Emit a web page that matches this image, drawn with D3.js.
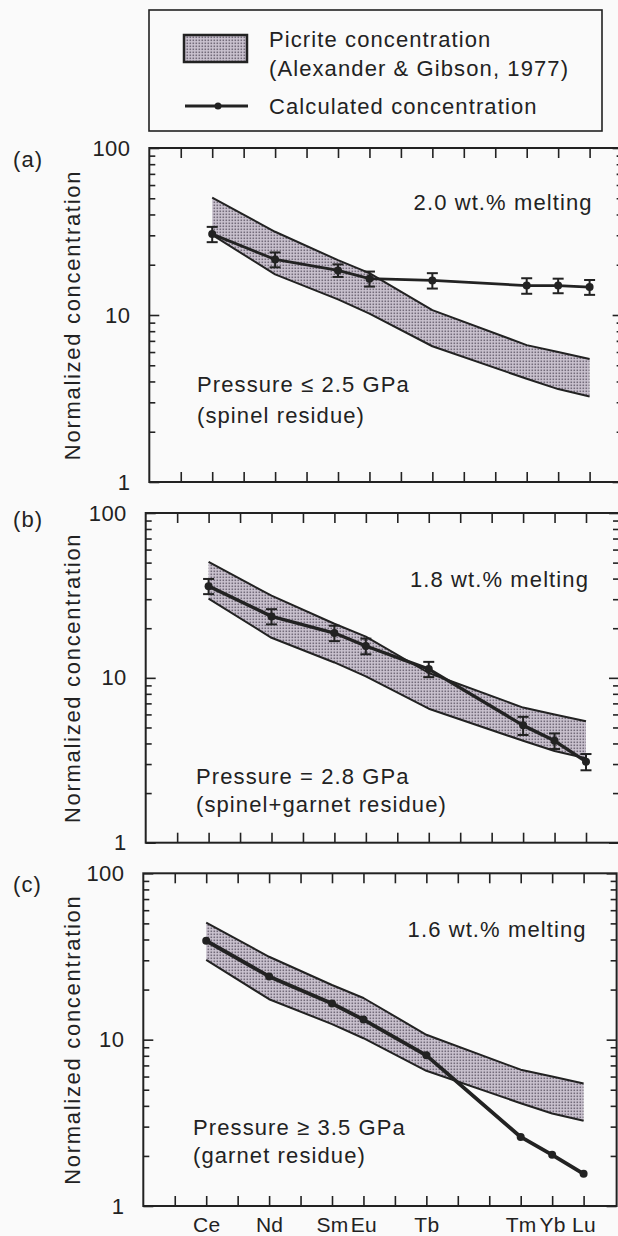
<!DOCTYPE html>
<html><head><meta charset="utf-8">
<script src="https://cdn.jsdelivr.net/npm/d3@7"></script>
<style>
html,body{margin:0;padding:0;background:#fafafa;}
svg{display:block;}
text{font-family:"Liberation Sans",Arial,Helvetica,sans-serif;fill:#222;}
</style></head><body>
<svg id="chart" width="618" height="1236"></svg>
<script>
// One x-axis tick per REE slot; only some slots carry a label
const slots = d3.range(0, 14);
const elements = ["Ce", "Nd", "Sm", "Eu", "Tb", "Tm", "Yb", "Lu"];
const elementSlot = [1, 3, 5, 6, 8, 11, 12, 13];

// Picrite envelope (Alexander & Gibson, 1977)
const picriteUpper = [50.5, 31.5, 21.3, 17.8, 10.7, 6.6, 6.0, 5.45];
const picriteLower = [30.2, 17.5, 12.4, 10.2, 6.5, 4.15, 3.6, 3.25];

// Calculated melt concentrations with their ± errors
const calcA = [30.5, 21.5, 18.5, 16.5, 16.1, 15.0, 15.0, 14.7];
const errA  = [3.2, 2.2, 1.6, 1.7, 1.7, 1.6, 1.5, 1.5];
const calcB = [36.0, 23.6, 18.7, 15.6, 11.3, 5.15, 4.15, 3.1];
const errB  = [3.8, 2.5, 2.0, 1.7, 1.2, 0.65, 0.45, 0.35];
const calcC = [39.3, 24.0, 16.5, 13.2, 8.05, 2.6, 2.03, 1.56];

const yMajor = [1, 10, 100];
const yMinor = [2, 3, 4, 5, 6, 7, 8, 9, 20, 30, 40, 50, 60, 70, 80, 90];

const panelTags = ["(a)", "(b)", "(c)"];
const meltText = ["2.0 wt.% melting", "1.8 wt.% melting", "1.6 wt.% melting"];
const pressureText = ["Pressure \u2264 2.5 GPa", "Pressure = 2.8 GPa", "Pressure \u2265 3.5 GPa"];
const residueText = ["(spinel residue)", "(spinel+garnet residue)", "(garnet residue)"];
const yTitle = "Normalized concentration";
const legendText = ["Picrite concentration", "(Alexander & Gibson, 1977)", "Calculated concentration"];

const INK = "#222";
const FS = 22, LS = "1.1px";
const step = 31.45;

const svg = d3.select("#chart");

// fine half-tone screen for the picrite envelope
const defs = svg.append("defs");
const pat = defs.append("pattern").attr("id", "screen")
  .attr("width", 3).attr("height", 3).attr("patternUnits", "userSpaceOnUse");
pat.append("rect").attr("width", 3).attr("height", 3).attr("fill", "#cbc3d0");
pat.append("rect").attr("x", 0.5).attr("y", 0.5).attr("width", 1.6).attr("height", 1.6).attr("fill", "#736b7a");

// legend
const lg = svg.append("g");
lg.append("rect").attr("x", 149).attr("y", 10).attr("width", 453).attr("height", 121)
  .attr("fill", "none").attr("stroke", INK).attr("stroke-width", 1.6);
lg.append("rect").attr("x", 184).attr("y", 35).attr("width", 63).attr("height", 27)
  .attr("fill", "url(#screen)").attr("stroke", INK).attr("stroke-width", 2.5);
lg.append("text").attr("x", 269).attr("y", 47).text(legendText[0]);
lg.append("text").attr("x", 269).attr("y", 76).text(legendText[1]);
lg.append("line").attr("x1", 185).attr("x2", 248).attr("y1", 106).attr("y2", 106)
  .attr("stroke", INK).attr("stroke-width", 3);
lg.append("circle").attr("cx", 218).attr("cy", 106).attr("r", 3.5).attr("fill", INK);
lg.append("text").attr("x", 269).attr("y", 114).text(legendText[2]);
lg.selectAll("text").attr("font-size", FS).attr("letter-spacing", LS);

const panels = [
  {left: 149.3, top: 148, bottom: 482, calc: calcA, err: errA, tagY: 167, meltY: 210, pY: 392, rY: 423, tx: 197, lw: 2.8},
  {left: 145.7, top: 513, bottom: 842.7, calc: calcB, err: errB, tagY: 527, meltY: 587, pY: 784, rY: 812, tx: 196, lw: 3.4},
  {left: 143.3, top: 873.3, bottom: 1206, calc: calcC, err: null, tagY: 892, meltY: 937, pY: 1135, rY: 1163, tx: 193, lw: 3.8}
];

panels.forEach((p, i) => {
  const right = p.left + 15.05 * step;
  const x = d3.scaleLinear().domain([-1, 14.05]).range([p.left, right]);
  const y = d3.scaleLog().domain([1, 100]).range([p.bottom, p.top]);
  const g = svg.append("g");

  // picrite envelope
  const band = elementSlot.map((s, k) => ({s, hi: picriteUpper[k], lo: picriteLower[k]}));
  g.append("path").datum(band)
    .attr("d", d3.area().x(d => x(d.s)).y0(d => y(d.lo)).y1(d => y(d.hi)))
    .attr("fill", "url(#screen)");
  [d => d.hi, d => d.lo].forEach(acc => {
    g.append("path").datum(band)
      .attr("d", d3.line().x(d => x(d.s)).y(d => y(acc(d))))
      .attr("fill", "none").attr("stroke", INK).attr("stroke-width", 2).attr("stroke-linejoin", "round");
  });

  // calculated concentration
  const pts = elementSlot.map((s, k) => ({s, v: p.calc[k], e: p.err ? p.err[k] : 0}));
  g.append("path").datum(pts)
    .attr("d", d3.line().x(d => x(d.s)).y(d => y(d.v)))
    .attr("fill", "none").attr("stroke", INK).attr("stroke-width", p.lw).attr("stroke-linejoin", "round");
  if (p.err) {
    const eb = g.append("g").attr("stroke", INK).attr("stroke-width", 2);
    pts.forEach(d => {
      const y0 = y(d.v - d.e), y1 = y(d.v + d.e), cx = x(d.s);
      eb.append("line").attr("x1", cx).attr("x2", cx).attr("y1", y0).attr("y2", y1);
      eb.append("line").attr("x1", cx - 5.5).attr("x2", cx + 5.5).attr("y1", y0).attr("y2", y0);
      eb.append("line").attr("x1", cx - 5.5).attr("x2", cx + 5.5).attr("y1", y1).attr("y2", y1);
    });
  }
  g.selectAll("circle.pt").data(pts).join("circle").attr("class", "pt")
    .attr("cx", d => x(d.s)).attr("cy", d => y(d.v)).attr("r", 4).attr("fill", INK);

  // frame
  g.append("rect").attr("x", p.left).attr("y", p.top)
    .attr("width", right - p.left).attr("height", p.bottom - p.top)
    .attr("fill", "none").attr("stroke", INK).attr("stroke-width", 2);

  // axes: ticks point into the plot
  const styleAxis = sel => {
    sel.select(".domain").remove();
    sel.selectAll(".tick line").attr("stroke", INK).attr("stroke-width", 1.6);
    sel.selectAll("text").attr("fill", "#222").attr("font-family", null);
  };
  g.append("g").attr("transform", `translate(${p.left},0)`)
    .call(d3.axisLeft(y).tickValues(yMajor).tickFormat(d3.format("d")).tickSize(-10).tickPadding(19))
    .call(styleAxis).selectAll("text").attr("font-size", FS).attr("letter-spacing", "0.4px");
  g.append("g").attr("transform", `translate(${p.left},0)`)
    .call(d3.axisLeft(y).tickValues(yMinor).tickFormat("").tickSize(-6)).call(styleAxis);
  g.append("g").attr("transform", `translate(${right},0)`)
    .call(d3.axisRight(y).tickValues(yMajor).tickFormat("").tickSize(-10)).call(styleAxis);
  g.append("g").attr("transform", `translate(${right},0)`)
    .call(d3.axisRight(y).tickValues(yMinor).tickFormat("").tickSize(-6)).call(styleAxis);
  g.append("g").attr("transform", `translate(0,${p.top})`)
    .call(d3.axisTop(x).tickValues(slots).tickFormat("").tickSize(-10)).call(styleAxis);
  const labelOf = s => { const k = elementSlot.indexOf(s); return (i === 2 && k >= 0) ? elements[k] : ""; };
  g.append("g").attr("transform", `translate(0,${p.bottom})`)
    .call(d3.axisBottom(x).tickValues(slots).tickFormat(labelOf).tickSize(-10).tickPadding(11))
    .call(styleAxis).selectAll("text").attr("font-size", 21).attr("letter-spacing", "0.3px");

  // texts
  const txt = (sel) => sel.attr("font-size", FS).attr("letter-spacing", LS);
  g.append("text").attr("x", 13).attr("y", p.tagY).call(txt).text(panelTags[i]);
  g.append("text").attr("x", x(13) + 3).attr("y", p.meltY).attr("text-anchor", "end").call(txt).text(meltText[i]);
  g.append("text").attr("x", p.tx).attr("y", p.pY).call(txt).text(pressureText[i]);
  g.append("text").attr("x", p.tx).attr("y", p.rY).call(txt).text(residueText[i]);
  g.append("text").attr("transform", `translate(80,${(p.top + p.bottom) / 2}) rotate(-90)`)
    .attr("text-anchor", "middle").attr("font-size", FS).attr("letter-spacing", "1.7px").text(yTitle);
});
</script>
</body></html>
